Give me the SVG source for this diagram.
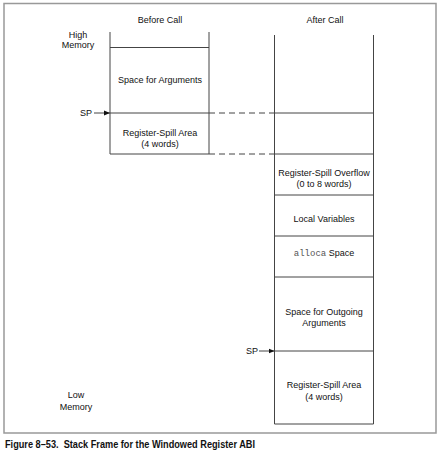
<svg xmlns="http://www.w3.org/2000/svg" width="440" height="451" viewBox="0 0 440 451">
<style>
.t{font-family:"Liberation Sans",Arial,sans-serif;font-size:9px;fill:#111;text-anchor:middle}
.m{font-family:"Liberation Mono","Courier New",monospace;font-size:9px;fill:#555}
.ln{stroke:#444;stroke-width:1;fill:none}
.cap{font-family:"Liberation Sans",Arial,sans-serif;font-size:10.5px;font-weight:bold;fill:#111;white-space:pre}
</style>
<defs>
<marker id="ah" viewBox="0 0 6 6" refX="6" refY="3" markerWidth="6" markerHeight="6" orient="auto" markerUnits="userSpaceOnUse">
<path d="M0,0.5 L6,3 L0,5.5 Z" fill="#111"/>
</marker>
</defs>
<rect x="4" y="3.5" width="432" height="429.5" fill="#fff" stroke="#999" stroke-width="1.5"/>
<text class="t" x="160" y="23">Before Call</text>
<text class="t" x="325" y="23">After Call</text>
<text class="t" x="78" y="38">High</text>
<text class="t" x="78" y="48">Memory</text>
<text class="t" x="76" y="398">Low</text>
<text class="t" x="76" y="410">Memory</text>
<g id="before-column">
<line class="ln" x1="110" y1="32" x2="110" y2="154"/>
<line class="ln" x1="209" y1="32" x2="209" y2="154"/>
</g>
<g id="before-args">
<line class="ln" x1="110" y1="47.5" x2="209" y2="47.5"/>
<text class="t" x="160" y="83">Space for Arguments</text>
</g>
<g id="before-spill">
<line class="ln" x1="110" y1="113" x2="209" y2="113"/>
<line class="ln" x1="110" y1="154" x2="209" y2="154"/>
<text class="t" x="160" y="136">Register-Spill Area</text>
<text class="t" x="160" y="147">(4 words)</text>
</g>
<g id="after-column">
<line class="ln" x1="274.5" y1="35" x2="274.5" y2="424"/>
<line class="ln" x1="373.5" y1="35" x2="373.5" y2="424"/>
<line class="ln" x1="274.5" y1="113" x2="373.5" y2="113"/>
<line class="ln" x1="274.5" y1="154" x2="373.5" y2="154"/>
</g>
<g id="after-overflow">
<line class="ln" x1="274.5" y1="195" x2="373.5" y2="195"/>
<text class="t" x="324" y="176">Register-Spill Overflow</text>
<text class="t" x="324" y="187">(0 to 8 words)</text>
</g>
<g id="after-locals">
<line class="ln" x1="274.5" y1="236" x2="373.5" y2="236"/>
<text class="t" x="324" y="222">Local Variables</text>
</g>
<g id="after-alloca">
<line class="ln" x1="274.5" y1="277" x2="373.5" y2="277"/>
<text class="t" x="324" y="256"><tspan class="m">alloca</tspan> Space</text>
</g>
<g id="after-outgoing">
<line class="ln" x1="274.5" y1="351" x2="373.5" y2="351"/>
<text class="t" x="324" y="315">Space for Outgoing</text>
<text class="t" x="324" y="326">Arguments</text>
</g>
<g id="after-spill">
<line class="ln" x1="274.5" y1="424" x2="373.5" y2="424"/>
<text class="t" x="324" y="388">Register-Spill Area</text>
<text class="t" x="324" y="400">(4 words)</text>
</g>
<g id="sp-before">
<text class="t" x="86" y="116">SP</text>
</g>
<g id="sp-after">
<text class="t" x="252" y="354">SP</text>
</g>
<g id="connectors">
<line class="ln" x1="94" y1="113" x2="110" y2="113" stroke="#111" marker-end="url(#ah)"/>
<line class="ln" x1="259" y1="351" x2="274.5" y2="351" stroke="#111" marker-end="url(#ah)"/>
<line class="ln" x1="209" y1="113" x2="274.5" y2="113" stroke-dasharray="6,4"/>
<line class="ln" x1="209" y1="154" x2="274.5" y2="154" stroke-dasharray="6,4"/>
</g>
<text class="cap" x="5" y="447.5" textLength="250" lengthAdjust="spacingAndGlyphs">Figure 8–53.  Stack Frame for the Windowed Register ABI</text>
</svg>
